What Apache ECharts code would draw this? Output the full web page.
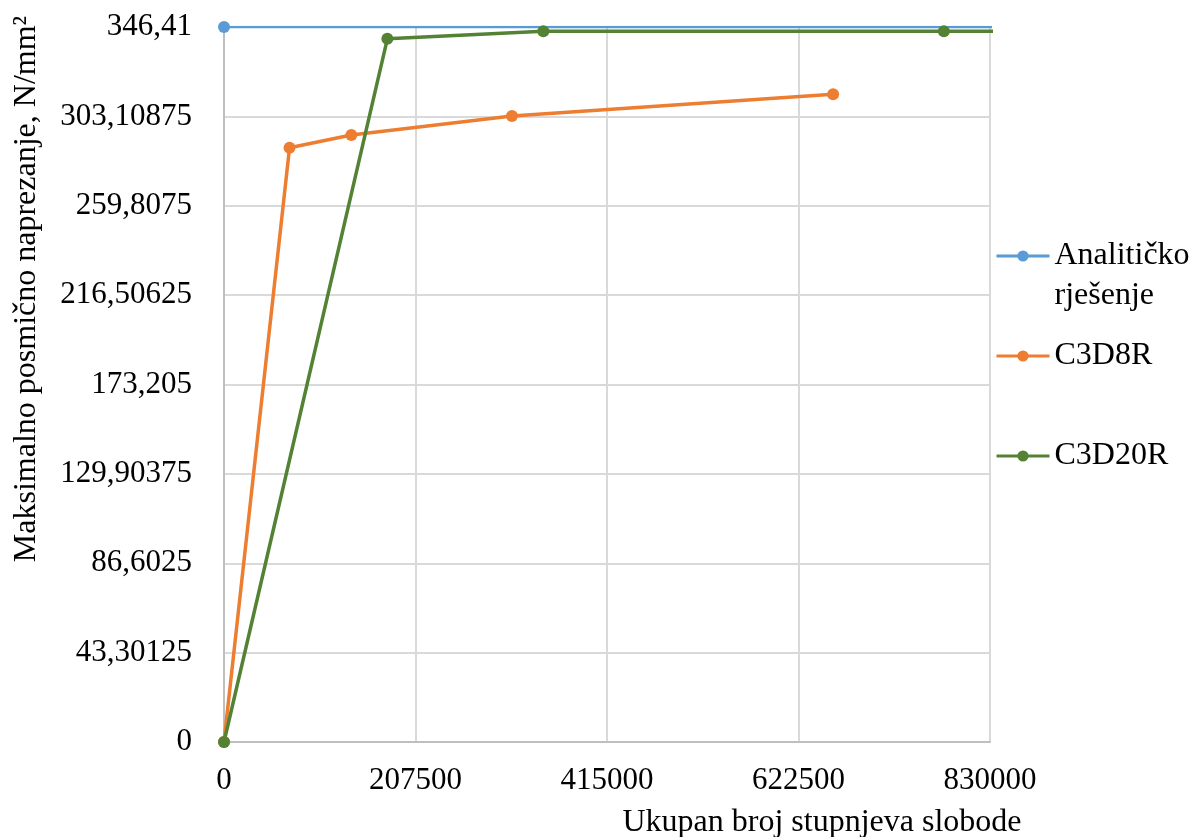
<!DOCTYPE html>
<html>
<head>
<meta charset="utf-8">
<script src="https://cdn.jsdelivr.net/npm/echarts@6/dist/echarts.min.js"></script>
<style>html,body{margin:0;padding:0;background:#fff}#c{width:1190px;height:837px}</style>
</head>
<body>
<div id="c"></div>
<script>
// Data
const seriesNames = ['Analitičko rješenje', 'C3D8R', 'C3D20R'];
const analyticX = [0, 900000];
const analyticY = [346.41, 346.41];
const c3d8rX = [0, 71000, 138000, 312000, 660000];
const c3d8rY = [0, 287.9, 294.1, 303.3, 313.8];
const c3d20rX = [0, 177000, 346000, 780000, 900000];
const c3d20rY = [0, 340.7, 344.3, 344.3, 344.3];
const xTicks = { min: 0, max: 830000, interval: 207500 };
const yTicks = { min: 0, max: 346.41, interval: 43.30125 };
const xTitle = 'Ukupan broj stupnjeva slobode';
const yTitle = 'Maksimalno posmično naprezanje, N/mm²';

const zip = (xs, ys) => xs.map((x, i) => [x, ys[i]]);
const FONT = '"Liberation Serif", "Times New Roman", serif';
const colors = ['#5B9BD5', '#ED7D31', '#548235'];

const chart = echarts.init(document.getElementById('c'), null, { renderer: 'canvas' });

const mkSeries = (name, data, color, w) => ({
  name, type: 'line', data, clip: true,
  symbol: 'circle', symbolSize: 12, showSymbol: true,
  lineStyle: { color, width: w },
  itemStyle: { color },
  emphasis: { disabled: true },
  animation: false
});

const mkLegend = (name, top, text) => ({
  data: [name], left: 995, top, orient: 'vertical', padding: 0,
  itemWidth: 53, itemHeight: 14,
  lineStyle: { width: 3 },
  formatter: () => text,
  textStyle: { fontFamily: FONT, fontSize: 32, lineHeight: 40, color: '#000' }
});

chart.setOption({
  animation: false,
  color: colors,
  grid: { left: 224, right: 200, top: 27, bottom: 95, containLabel: false },
  xAxis: {
    type: 'value', min: xTicks.min, max: xTicks.max, interval: xTicks.interval,
    axisLine: { show: true, lineStyle: { color: '#BFBFBF', width: 2 } },
    axisTick: { show: false },
    splitLine: { show: true, lineStyle: { color: '#D9D9D9', width: 2 } },
    axisLabel: { fontFamily: FONT, fontSize: 31, color: '#000', margin: 23,
      formatter: v => String(Math.round(v)) }
  },
  yAxis: {
    type: 'value', min: yTicks.min, max: yTicks.max, interval: yTicks.interval,
    axisLine: { show: true, lineStyle: { color: '#BFBFBF', width: 2 } },
    axisTick: { show: false },
    splitLine: { show: true, lineStyle: { color: '#D9D9D9', width: 2 } },
    axisLabel: { fontFamily: FONT, fontSize: 31, color: '#000', margin: 32,
      formatter: v => String(parseFloat(v.toFixed(5))).replace('.', ',') }
  },
  legend: [
    mkLegend(seriesNames[0], 196, '\nAnalitičko\nrješenje'),
    mkLegend(seriesNames[1], 336, seriesNames[1]),
    mkLegend(seriesNames[2], 436, seriesNames[2])
  ],
  graphic: [
    { type: 'text', x: 27, y: 289, rotation: Math.PI / 2,
      style: { text: yTitle, font: '32px ' + FONT, fill: '#000', align: 'center', verticalAlign: 'middle' } },
    { type: 'text', x: 822, y: 823,
      style: { text: xTitle, font: '32px ' + FONT, fill: '#000', align: 'center', verticalAlign: 'middle' } }
  ],
  series: [
    mkSeries(seriesNames[0], zip(analyticX, analyticY), colors[0], 2.5),
    mkSeries(seriesNames[1], zip(c3d8rX, c3d8rY), colors[1], 3.5),
    mkSeries(seriesNames[2], zip(c3d20rX, c3d20rY), colors[2], 3.5)
  ]
});
</script>
</body>
</html>
